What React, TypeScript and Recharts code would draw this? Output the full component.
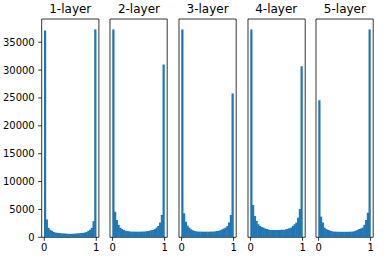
import { BarChart, Bar, XAxis, YAxis, ReferenceArea } from 'recharts';

// 30-bin histograms of sigmoid activations per layer
const layerTitles = ['1-layer', '2-layer', '3-layer', '4-layer', '5-layer'];

const layer1 = [37100, 3200, 1700, 1350, 1150, 950, 850, 800, 760, 730, 700, 680, 650, 630, 620, 620, 630, 650, 680, 700, 730, 760, 800, 850, 950, 1150, 1350, 1700, 2900, 37300];
const layer2 = [36700, 4500, 3050, 2200, 1700, 1450, 1300, 1150, 1100, 1050, 1000, 1000, 990, 980, 980, 980, 990, 1000, 1020, 1050, 1100, 1150, 1250, 1300, 1450, 1700, 2000, 2600, 3950, 30500];
const layer3 = [36700, 4250, 2750, 2050, 1700, 1400, 1250, 1100, 1050, 1000, 1000, 990, 980, 980, 980, 980, 990, 1000, 1000, 1050, 1100, 1150, 1250, 1400, 1550, 1700, 2000, 2600, 3950, 25400];
const layer4 = [36700, 5700, 3750, 2900, 2300, 2000, 1800, 1700, 1550, 1450, 1350, 1300, 1290, 1290, 1290, 1290, 1290, 1300, 1350, 1300, 1400, 1500, 1600, 1700, 2000, 2300, 2600, 3450, 5000, 30200];
const layer5 = [24200, 3650, 2600, 1700, 1450, 1300, 1200, 1100, 1000, 990, 980, 970, 960, 960, 960, 960, 960, 970, 980, 990, 1050, 1150, 1300, 1450, 1550, 1700, 2200, 3050, 4350, 36700];

const layers = [layer1, layer2, layer3, layer4, layer5];
const yTicks = [0, 5000, 10000, 15000, 20000, 25000, 30000, 35000];
const xTicks = [0, 1];

const BLUE = '#1f77b4';
const PLOT_W = 57.2;
const STEP = 68.65;
const FIRST_LEFT = 41.7;
const TOP = 19;
const AXIS_H = 25.7;
const H = 263;
const BIN_PX = PLOT_W / 1.1 / 30;
const TICK = { fontFamily: 'DejaVu Sans', fontSize: 10, fill: '#000' };
const LINE = { stroke: '#000', strokeWidth: 0.8 };

// full-bin-width rect centred on the bar so neighbouring bins don't show seams
function BinRect(props: any) {
  const { x, y, width, height } = props;
  if (!height || height <= 0) return null;
  const cx = x + width / 2;
  const w = BIN_PX + 0.5;
  return <rect x={cx - w / 2} y={y} width={w} height={height} fill={BLUE} />;
}

function LayerHist({ title, values, index }: { title: string; values: number[]; index: number }) {
  const showY = index === 0;
  const plotLeft = FIRST_LEFT + STEP * index;
  const chartLeft = showY ? 0 : plotLeft - 2;
  const marginLeft = showY ? 0 : 2;
  const width = (showY ? plotLeft : 2) + PLOT_W + 2;
  const data = values.map((v, i) => ({ bin: (i + 0.5) / 30, count: v }));
  const yMax = Math.max(...values) * 1.05;

  return (
    <div style={{ position: 'absolute', left: chartLeft, top: 0, width, height: H }}>
      <div style={{
        position: 'absolute', left: plotLeft - chartLeft, top: 3, width: PLOT_W,
        textAlign: 'center', fontFamily: 'DejaVu Sans', fontSize: 12, lineHeight: '12px', color: '#000',
        whiteSpace: 'nowrap',
      }}>{title}</div>
      <BarChart width={width} height={H} data={data} barCategoryGap={0} barGap={0}
        margin={{ top: TOP, right: 2, bottom: 0, left: marginLeft }}>
        <XAxis dataKey="bin" type="number" domain={[-0.05, 1.05]} ticks={xTicks} allowDataOverflow
          height={AXIS_H} tick={TICK} tickSize={3.5} tickMargin={3.5}
          axisLine={false} tickLine={LINE} />
        <YAxis type="number" domain={[0, yMax]} allowDataOverflow
          width={showY ? plotLeft : 0}
          ticks={showY ? yTicks : []} tick={showY ? TICK : false} tickLine={showY ? LINE : false}
          tickSize={3.5} tickMargin={3.5} axisLine={false} />
        <Bar dataKey="count" fill={BLUE} shape={BinRect}
          barSize={BIN_PX} isAnimationActive={false} />
        <ReferenceArea x1={-0.05} x2={1.05} y1={0} y2={yMax} fill="none" stroke="#000" strokeWidth={0.8}
          ifOverflow="visible" />
      </BarChart>
    </div>
  );
}

export default function App() {
  return (
    <div style={{ position: 'absolute', left: 0, top: 0, width: 386, height: H, background: '#fff' }}>
      {layers.map((vals, i) => (
        <LayerHist key={layerTitles[i]} title={layerTitles[i]} values={vals} index={i} />
      ))}
    </div>
  );
}
